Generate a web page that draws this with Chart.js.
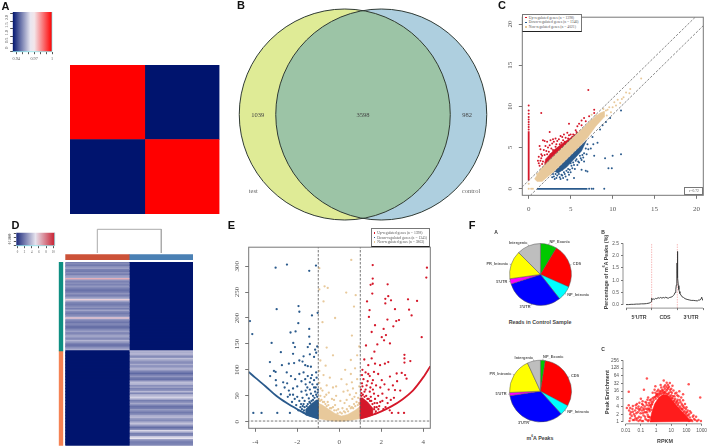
<!DOCTYPE html>
<html>
<head>
<meta charset="utf-8">
<title>Figure</title>
<script src="https://cdn.jsdelivr.net/npm/chart.js@4"></script>
<style>
  body { margin: 0; background: #fff; }
  #page { position: relative; width: 709px; height: 446px; overflow: hidden; background: #fff; }
  #page canvas { position: absolute; }
  .note { position: absolute; white-space: nowrap; color: #444; }
  .note sup { font-size: 62%; line-height: 0; }
  .frame { position: absolute; box-sizing: border-box; background: #fff; }
</style>
</head>
<body>
<div id="page"></div>
<script>
// Panel A
const sampleNames = ["test", "control"];
const corrRows = [[1, 0.94], [0.94, 1]];
const corrKeyRange = [0.934, 1];
const corrKeyTicks = [0.94, 0.95, 0.96, 0.97, 0.98, 0.99, 1];
const corrKeyLabels = [0.94, 0.97, 1];

// Panel B
const vennNames = ["test", "control"];
const vennCounts = [1039, 3598, 982];
const vennCentreX = [-18.25, 18.25];
const vennCentreY = [-0.5, -0.5];

// Panel C
const cUpper = [[-0.8, 0.2], [20, 21]];
const cLower = [[0.2, -0.8], [21, 20]];
const cUpStrip = [[0, 1], [0, 7]];
const cDownStrip = [[1, 0], [7, 0]];
const cNonBand = [[0.7, 1.2], [1.5, 2.5], [3, 4], [5, 6], [6.5, 7.4], [7.5, 8.4], [8.5, 9.2], [9, 9.4], [9, 8.7], [8, 7.6], [7, 6.2], [6, 5.1], [5, 4.1], [3, 2.1], [1.6, 0.9], [1, 0.9], [0.7, 1.2]];
const cUpCore = [[1.9, 2.9], [2, 3.6], [3, 4.7], [4, 5.5], [5, 6.2], [5.8, 6.8], [5, 6], [3, 4], [1.9, 2.9]];
const cDownCore = [[3.1, 2.1], [3.5, 1.9], [4.5, 2.6], [5.5, 3.7], [6.3, 4.6], [6.9, 5.9], [6, 5], [5, 4], [3.1, 2.1]];
const cUpPoints = [[0, 7.2], [0, 7.5], [0, 7.8], [0, 8.1], [0, 8.4], [0, 8.7], [0, 9.1], [0, 9.5], [0, 10.1], [1.5, 9.2], [7.1, 12], [7.8, 9.6], [2.5, 6.9], [1.7, 5.9], [1.9, 5.8], [2.2, 5.7], [2.6, 5.9], [2.9, 6], [1.3, 5.2], [1.4, 4.8], [1.2, 3.9], [1.5, 4.2], [1.8, 4.7], [2, 5.2], [2.3, 5], [2.5, 5.3], [2.8, 5.5], [3, 5.7], [3.2, 6.1], [3.4, 5.8], [3.6, 6], [3.8, 6.4], [4, 6.3], [4.2, 6.6], [4.4, 6.2], [4.6, 6.8], [4.8, 6.5], [5, 6.6], [5.2, 6.3], [4.8, 7.9], [5.6, 7.1], [5.8, 7.6], [6, 7.9], [6.3, 7.7], [6.3, 8.3], [6.6, 8.6], [6.8, 8.2], [7.2, 8.8], [7.8, 9.2], [1.6, 3], [1.4, 3.4], [2.1, 4.6], [2.7, 4.9], [3.2, 5.1], [3.7, 5.4], [1.2, 3.1], [2.4, 3.8], [3.9, 5.6], [1.5, 3.7], [1.7, 3.3], [1.9, 4.1], [1.6, 4], [2.2, 4.2], [2.4, 4.5], [2.6, 4.2], [2.9, 4.7], [3.1, 4.5], [3.3, 5.4], [3.5, 4.9], [3.8, 5.1], [4.1, 5.9], [4.3, 5.7], [4.5, 5.6], [4.7, 6.1], [4.9, 5.9], [5.3, 6.6], [5.5, 6.5], [5.7, 6.9], [2, 3.2], [2.8, 4.1], [3.4, 4.6], [1.3, 2.8], [1.1, 3.4], [2.3, 3.5]];
const cDownPoints = [[7.2, 0], [7.5, 0], [7.7, 0], [9, 0], [11, 4.2], [10, 4], [9.1, 3.7], [7.8, 4], [9.5, 2.5], [9.9, 2.5], [6.8, 2.2], [7, 2.1], [6.3, 2.3], [5.4, 1.3], [5, 2], [4.8, 1.7], [4.4, 1.5], [4.1, 1.3], [3.7, 1.4], [3.3, 1.3], [3, 1.5], [2.8, 1.4], [3.8, 1.2], [4.6, 1.1], [5.5, 2.4], [5.8, 2.9], [6, 3.2], [6.3, 3.5], [6.6, 3.3], [6.9, 4.2], [7.1, 4.8], [7.4, 4.9], [7.7, 5.4], [7.6, 6.3], [8.2, 5.6], [8.5, 7.2], [8.8, 7.7], [9.2, 8.1], [9.7, 8.6], [11, 9.5], [5.1, 2.8], [5.6, 3.4], [6.6, 4.3], [4.2, 2], [3.6, 1.8], [3.2, 1.8], [3.4, 1.6], [3.9, 1.7], [4, 2.3], [4.3, 1.8], [4.5, 2.2], [4.7, 2.4], [4.9, 2.3], [5, 3.1], [5.2, 2.5], [5.3, 3.2], [5.4, 2.9], [5.7, 3.6], [5.9, 3.3], [6.1, 4], [6.2, 3.7], [6.4, 4.1], [6.5, 3.8], [6.8, 4.9], [7, 5.4], [4, 1.6], [3.5, 2.2], [2.9, 1.8], [4.7, 2], [3.1, 1.2]];
const cNonPoints = [[0, 0.6], [0, 0], [0.3, 0], [0.5, 0], [13.4, 13.4], [12.1, 12.1], [12, 11.6], [11.6, 11.7], [11.3, 11.1], [11.1, 10.9], [10.9, 10.4], [10.6, 10.8], [10.4, 10.1], [10.2, 10.5], [10, 9.9], [9.8, 9.3], [9.6, 9.9], [9.4, 9.6], [9.3, 8.9], [9.2, 9.5], [8.9, 9.7], [8.7, 8.9], [7.5, 9], [8, 8.9], [1, 1.8]];

// Panel D
const heatColumns = ["case", "control"];
const heatTopRows = [2.5, 2.8, 2.4, 2.9, 3.3, 2.6, 2.4, 2.9, 2.5, 3.1, 3.4, 6.4, 3, 2.6, 2.9, 2.6, 3.1, 2.8, 2.3, 2.2, 2.6, 3, 2.5, 2.8, 3.6, 5.6, 3.3, 2.7, 2.4, 2.6, 3, 2.5, 3.4, 2.8, 2.4, 2.7, 3.2, 5.8, 3.1, 2.6, 2.3, 2.8, 2.5, 2.1, 2.4, 2.9, 3.3, 2.6, 3, 3.5, 3.1, 2.7, 3.8, 3.2, 2.6, 2.2, 2.5, 3.1, 3.6];
const heatBottomRows = [3.8, 3.6, 3.9, 3.2, 2.7, 4, 3.5, 3, 2.8, 3.6, 2.9, 3.3, 3.8, 3.1, 2.5, 2, 2.6, 3.1, 2.4, 2.2, 3.5, 4, 3.7, 2.9, 3.3, 2.6, 3, 3.9, 2.7, 3.6, 4.1, 4.5, 3.4, 2.5, 3, 3.5, 2.6, 2.2, 2.5, 3.2, 2.7, 2.4, 2.9, 3.6, 3.9, 3.2, 2.8, 3.3, 4.1, 3.7, 2.6, 2.1, 2.9, 4.6, 3.4, 2.5, 2.8, 4.2, 4.9, 3.3, 2.6, 2.5, 2.7];
const heatSilentValue = 0;
const heatKeyRange = [-0.3, 10.4];
const heatKeyTicks = [0, 2, 4, 6, 8, 10];
const sideBarRows = [59, 63];
const dendroX = [0, 0, 1, 1];
const dendroY = [0, 1, 1, 0];

// Panel E
const eLeftCurve = [[-4.31, 96], [-4, 85], [-3.5, 68], [-3, 50], [-2.5, 36], [-2, 24], [-1.5, 13], [-1, 6]];
const eRightCurve = [[1, 6], [1.5, 12], [2, 20], [2.5, 30], [3, 43], [3.5, 60], [4, 86], [4.33, 107]];
const eCutX = [-1, 1];
const eCutY = 1.3;
const eNonCore = [[-1, 6], [-0.6, 3], [-0.2, 1], [0.2, 1], [0.6, 3], [1, 6], [1, 30], [0.75, 22], [0.4, 14], [0.1, 11], [-0.2, 16], [-0.5, 24], [-0.8, 32], [-1, 36], [-1, 6]];
const eDownCore = [[-1, 6], [-1.3, 9], [-1.6, 13], [-1.6, 24], [-1.35, 34], [-1.1, 42], [-1, 42], [-1, 6]];
const eUpCore = [[1, 6], [1.3, 9], [1.6, 13], [1.6, 26], [1.35, 38], [1.1, 46], [1, 46], [1, 6]];
const eDownPoints = [[-4.25, 194], [-4.14, 169], [-3.03, 297], [-2.49, 303], [-1.43, 291], [-1.11, 301], [-2.98, 217], [-1.94, 223], [-1.9, 212], [-1.3, 205], [-1.03, 210], [-1.95, 190], [-2.32, 172], [-2.08, 174], [-1.43, 179], [-1.43, 164], [-3.22, 152], [-2.78, 134], [-2.19, 152], [-2.11, 144], [-1.5, 144], [-1.4, 150], [-3.3, 115], [-2.73, 109], [-3.29, 88], [-3.11, 98], [-3.03, 96], [-3.02, 80], [-3, 70], [-2.67, 76], [-2.48, 74], [-2.78, 53], [-4.09, 17], [-3.7, 17], [-2.95, 17], [-2.35, 17], [-2.2, 131], [-2.15, 113], [-1.9, 118], [-1.75, 116], [-1.62, 109], [-1.5, 107], [-1.35, 106], [-1.2, 125], [-1.1, 133], [-1.05, 145], [-1.15, 139], [-1.4, 130], [-1.7, 126], [-2.4, 112], [-2.5, 95], [-2.3, 88], [-2.1, 82], [-1.9, 92], [-1.7, 95], [-1.5, 88], [-1.3, 90], [-1.1, 95], [-1.2, 80], [-1.4, 76], [-1.6, 72], [-1.8, 78], [-2, 68], [-2.2, 64], [-2.4, 60], [-2.6, 66], [-2.45, 48], [-2.2, 52], [-2, 48], [-1.8, 58], [-1.6, 60], [-1.4, 62], [-1.2, 66], [-1.05, 72], [-1.9, 40], [-1.75, 46], [-1.55, 52], [-1.7, 34], [-2.05, 32], [-2.25, 38], [-1.35, 54], [-1.15, 58], [-1.25, 50], [-1.45, 45], [-1.85, 28], [-1.05, 48], [-1.1, 52], [-1.18, 46], [-1.25, 42], [-1.32, 40], [-1.38, 36], [-1.42, 38], [-1.5, 34], [-1.55, 30], [-1.65, 28], [-1.65, 40], [-1.7, 18], [-1.78, 24], [-1.95, 22], [-1.03, 56], [-1.12, 66], [-1.28, 72], [-1.52, 66], [-1.02, 62], [-1.08, 85], [-1.35, 84], [-1.62, 82], [-1.68, 22], [-1.74, 30], [-1.82, 34], [-2.12, 44], [-2.35, 52]];
const eUpPoints = [[1.59, 302], [1.59, 276], [1.59, 266], [1.49, 264], [1.57, 247], [2.3, 265], [2.33, 242], [2.19, 237], [2.46, 234], [1.32, 232], [2.19, 228], [1.44, 215], [2.65, 217], [1.41, 202], [2.29, 197], [2.71, 194], [2.84, 196], [2.57, 184], [1.7, 186], [2.11, 179], [1.54, 173], [2.02, 163], [2.22, 167], [2.13, 157], [3.27, 236], [3.7, 233], [3.32, 216], [3.44, 205], [3.92, 163], [4.17, 297], [4.14, 278], [3.1, 129], [3.1, 122], [3.1, 114], [3.38, 117], [1.27, 147], [1.81, 149], [2.41, 151], [1.67, 135], [1.19, 120], [1.54, 122], [1.38, 109], [1.7, 112], [1.94, 109], [2.17, 112], [2.33, 115], [2.73, 93], [2.97, 94], [3.13, 90], [3.2, 83], [2.81, 17], [3.08, 17], [2.65, 61], [2.41, 87], [2.02, 80], [1.1, 100], [1.25, 95], [1.45, 88], [1.65, 96], [1.85, 92], [1.15, 82], [1.35, 78], [1.55, 74], [1.75, 70], [1.95, 66], [2.15, 72], [2.35, 62], [2.55, 70], [2.75, 78], [2.9, 60], [1.1, 68], [1.25, 62], [1.45, 58], [1.65, 54], [1.85, 50], [2.05, 54], [2.25, 46], [2.45, 42], [2.05, 40], [1.8, 36], [2.2, 28], [2.4, 22], [2.5, 17], [1.9, 30], [1.2, 58], [1.05, 55], [1.5, 48], [1.7, 44], [1.05, 50], [1.12, 52], [1.2, 48], [1.28, 50], [1.34, 44], [1.4, 44], [1.46, 40], [1.52, 40], [1.58, 34], [1.68, 28], [1.68, 36], [1.74, 20], [1.78, 28], [1.86, 24], [1.95, 38], [1.03, 62], [1.08, 74], [1.3, 70], [1.48, 66], [1.6, 62], [1.08, 90], [1.38, 92], [1.6, 80], [1.72, 16], [1.66, 24], [2.1, 24], [2.3, 36], [2.6, 46]];
const eNonPoints = [[0.57, 312], [-0.95, 296], [-0.7, 261], [-0.95, 255], [-0.55, 258], [0.33, 249], [0.78, 244], [-0.75, 232], [0.7, 222], [-0.2, 200], [-0.8, 192], [0.6, 166], [-0.6, 143], [0.95, 145], [-0.3, 128], [0.85, 128], [0.55, 119], [-0.9, 118], [-0.65, 108], [0.28, 100], [0.75, 103], [-0.95, 98], [0.55, 92], [-0.75, 90], [-0.45, 85], [0.1, 82], [0.85, 82], [0.35, 72], [-0.95, 75], [-0.6, 70], [-0.3, 66], [0.65, 64], [0.95, 68], [0.2, 58], [-0.8, 60], [-0.5, 56], [-0.15, 50], [0.5, 52], [0.8, 55], [-0.7, 48], [-0.35, 44], [0.05, 40], [0.35, 42], [0.62, 44], [0.9, 46], [-0.9, 50], [-0.55, 38], [-0.2, 32], [0.15, 26], [0.48, 30], [0.7, 34], [-0.05, 24], [-0.92, 40], [-0.85, 42], [-0.78, 38], [-0.72, 38], [-0.66, 34], [-0.6, 30], [-0.52, 32], [-0.44, 26], [-0.38, 26], [-0.3, 28], [-0.24, 22], [-0.14, 22], [-0.08, 16], [0.04, 18], [0.12, 16], [0.22, 20], [0.28, 18], [0.36, 24], [0.42, 20], [0.55, 26], [0.6, 28], [0.66, 26], [0.76, 30], [0.82, 38], [0.88, 32], [0.93, 36], [0.97, 34], [-0.97, 44], [-0.62, 52], [-0.25, 42], [0.25, 36], [0.72, 48], [-0.88, 64], [0.4, 60], [0.6, 76], [-0.15, 68]];

// Panel F
const pieSegments = ["NP_Exonic", "CDS", "NP_Intronic", "3'UTR", "5'UTR", "PR_Intronic", "Intergenic"];
const readsShare = [8.6, 23, 7.8, 30.6, 2.8, 14.7, 12.5];
const peaksShare = [2.5, 30.5, 5.5, 34.5, 1.7, 18.9, 6.9];
const metageneX = [0, 0.1, 0.2, 0.3, 0.4, 0.5, 0.6, 0.7, 0.8, 0.9, 0.95, 0.98, 1, 1.03, 1.06, 1.1, 1.15, 1.2, 1.25, 1.3, 1.35, 1.4, 1.45, 1.5, 1.55, 1.6, 1.65, 1.7, 1.75, 1.8, 1.85, 1.88, 1.91, 1.94, 1.96, 1.98, 1.99, 2, 2.01, 2.02, 2.04, 2.06, 2.08, 2.1, 2.14, 2.18, 2.24, 2.3, 2.38, 2.46, 2.54, 2.62, 2.7, 2.78, 2.84, 2.88, 2.92, 2.95, 2.97, 3];
const metageneY = [0.01, 0.01, 0.02, 0.02, 0.03, 0.03, 0.04, 0.04, 0.05, 0.07, 0.09, 0.13, 0.27, 0.22, 0.24, 0.22, 0.26, 0.25, 0.29, 0.27, 0.3, 0.27, 0.3, 0.28, 0.31, 0.28, 0.27, 0.3, 0.31, 0.33, 0.38, 0.42, 0.5, 0.62, 0.8, 1.25, 1.7, 2.17, 1.5, 1.1, 0.78, 0.62, 0.54, 0.46, 0.4, 0.33, 0.3, 0.25, 0.22, 0.2, 0.18, 0.18, 0.17, 0.16, 0.2, 0.19, 0.23, 0.31, 0.24, 0.17];
const metageneBreaks = [1, 2];
const metageneRegions = ["5'UTR", "CDS", "3'UTR"];
const enrichCore = [[0.4, 1], [0.5, 2.2], [0.8, 5], [1.5, 9], [3, 12], [6, 11], [12, 7], [25, 4], [50, 2.6], [100, 1.7], [200, 1.05], [0.4, 1]];
const enrichPoints = [[0.016, 15], [0.25, 50], [3.2, 42], [5, 34], [8, 33], [140, 30], [800, 9], [0.9, 25], [2, 28], [4, 27], [1.4, 18], [2.2, 22], [7, 24], [12, 26], [0.16, 18], [0.6, 14], [0.8, 18], [1.1, 12], [14, 17], [22, 14], [34, 16], [30, 10], [60, 12], [0.3, 9], [0.2, 6], [0.1, 8], [0.12, 5], [0.07, 4], [0.05, 3.5], [0.03, 4.2], [0.02, 3.5], [0.016, 4.5], [0.017, 2.8], [0.02, 2], [0.03, 2.5], [0.04, 1.7], [0.05, 2.2], [0.06, 1.4], [0.08, 2.8], [0.1, 1.5], [0.13, 2.2], [0.16, 3], [0.2, 1.3], [0.25, 2.4], [0.3, 3.4], [0.02, 1.4], [0.03, 1.2], [0.07, 1.1], [0.14, 1.1], [0.18, 4], [0.24, 4.6], [0.35, 5.5], [0.4, 7], [0.5, 6], [0.6, 8.5], [0.7, 7], [0.85, 9.5], [1.1, 11], [1.5, 13], [2, 15], [3, 16], [4, 15], [5, 17], [7, 14], [9, 15], [10, 11], [13, 10], [18, 8], [24, 6.5], [30, 5.5], [40, 6], [55, 4.5], [70, 3.6], [90, 3.2], [120, 2.8], [150, 2], [200, 2.3], [260, 1.6], [320, 1.3], [180, 1.2], [100, 3.8], [500, 1.1], [900, 1.1], [60, 7], [80, 5], [45, 9], [25, 11], [18, 13], [0.45, 3.8], [0.28, 1.9], [0.4, 1.5], [0.055, 5], [0.035, 2], [0.09, 3.2], [0.022, 2.4], [0.012, 3.5], [0.15, 1.8], [0.22, 3.3],
  [0.33, 1.2], [0.38, 2.6], [0.3, 1.1], [0.36, 3], [0.34, 1.6], [0.45, 4.2], [0.55, 5], [0.62, 6], [0.5, 3], [0.7, 9], [0.95, 8], [1, 10], [1.2, 12], [1.3, 9.6], [1.6, 11], [1.8, 13], [2.2, 12.5], [2.6, 14], [3.2, 13.5], [3.6, 14], [4.4, 13], [5.5, 12.5], [6.5, 12], [8, 10], [9, 9], [11, 8.2], [12, 8.5], [15, 6.4], [16, 7], [20, 5.4], [22, 6], [26, 4.8], [28, 4.4], [34, 3.6], [38, 4], [45, 3.4], [50, 3.2], [56, 3], [65, 2.4], [75, 2.6], [85, 2], [95, 2.3], [110, 1.8], [130, 1.8], [145, 1.1], [165, 1.5], [210, 1.2], [240, 1.1], [290, 1.8], [380, 1.2], [430, 1.6], [620, 1.2],
  [0.018, 1.1], [0.025, 1.7], [0.028, 3.2], [0.036, 1.2], [0.042, 2.8], [0.046, 4.5], [0.052, 1.2], [0.062, 2.4], [0.068, 3.3], [0.075, 1.6], [0.09, 1.2], [0.095, 2.2], [0.11, 3.8], [0.115, 1.1], [0.12, 2.8], [0.14, 4.6], [0.15, 3.4], [0.17, 2.4], [0.19, 1.6], [0.21, 2.4], [0.23, 5.6], [0.27, 3], [0.3, 1.6], [0.32, 4.4], [0.36, 3.2], [0.41, 4.6], [0.46, 7.5], [0.52, 4.8], [0.13, 6.4], [0.08, 5.6], [0.045, 1.4], [0.24, 1.2], [0.27, 7.4], [0.9, 14], [1.8, 16], [2.7, 18], [3.8, 20], [5.6, 19], [6.4, 21], [8.5, 18], [11, 14], [16, 10], [2.4, 17], [1.2, 16], [3.3, 24], [4.8, 23], [6, 28], [10, 20], [26, 7.4], [36, 7.2], [48, 5.2], [62, 4], [110, 2.4], [170, 2.6]];
const enrichTicksX = [0.01, 0.1, 1, 10, 100, 1000];
const enrichTicksY = [1, 2, 4, 8, 16, 32, 64, 128, 256];

// Colours
const navy = "#00146e";
const serif = "'Liberation Serif'";
const sans = "'Liberation Sans'";
const redUp = "#d5182a";
const blueDown = "#2a5a8c";
const beige = "#e8c99b";
const pieColours = ["#00c800", "#ff0000", "#00ffff", "#0000ff", "#ff00ff", "#ffff00", "#bebebe"];

var page = document.getElementById("page");

// Mixes two rgb triples
function mix(a, b, t) {
  return "rgb(" + a.map(function (v, i) { return Math.round(v + (b[i] - v) * t); }).join(",") + ")";
}

// Heatmap colour for panel D: navy at 0, near white at 5, red at 10
function heatColour(v) {
  if (v <= 5) return mix([0, 20, 110], [236, 232, 242], v / 5);
  return mix([236, 232, 242], [208, 28, 40], (v - 5) / 5);
}

// Canvas at box [x, y, w, h] with the plot area pinned to plot [left, top, right, bottom]
function draw(box, plot, config) {
  var canvas = document.createElement("canvas");
  canvas.style.left = box[0] + "px";
  canvas.style.top = box[1] + "px";
  canvas.width = box[2];
  canvas.height = box[3];
  page.appendChild(canvas);
  var gapL = plot[0] - box[0];
  var gapT = plot[1] - box[1];
  var gapR = box[0] + box[2] - plot[2];
  var gapB = box[1] + box[3] - plot[3];
  var o = config.options || (config.options = {});
  var sc = o.scales || {};
  var xShown = sc.x && sc.x.display !== false;
  var yShown = sc.y && sc.y.display !== false;
  if (xShown) sc.x.afterFit = function (s) { s.height = gapB; };
  if (yShown) sc.y.afterFit = function (s) { s.width = gapL; };
  o.responsive = false;
  o.animation = false;
  o.devicePixelRatio = 1;
  o.layout = { autoPadding: false, padding: { top: gapT, right: gapR, left: yShown ? 0 : gapL, bottom: xShown ? 0 : gapB } };
  o.plugins = Object.assign({ legend: { display: false }, tooltip: { enabled: false } }, o.plugins);
  return new Chart(canvas, config);
}

// Real text placed on the page, x and y are the anchor
function note(str, x, y, font, extra) {
  var el = document.createElement("div");
  el.className = "note";
  el.innerHTML = str;
  el.style.left = x + "px";
  el.style.top = y + "px";
  el.style.font = font;
  el.style.transform = "translate(-50%, -50%)";
  Object.assign(el.style, extra || {});
  page.appendChild(el);
  return el;
}

function frame(x, y, w, h, css) {
  var el = document.createElement("div");
  el.className = "frame";
  el.style.left = x + "px";
  el.style.top = y + "px";
  el.style.width = w + "px";
  el.style.height = h + "px";
  el.style.border = css;
  page.appendChild(el);
  return el;
}

// Small legend box like the R one
function legendBox(x, y, w, h, rowYs, labels) {
  var el = frame(x, y, w, h, "1px solid #777");
  el.style.borderBottom = "1px solid #222";
  var cols = [redUp, blueDown, beige];
  labels.forEach(function (txt, i) {
    var dot = frame(x + 3, rowYs[i] - 0.8, 1.6, 1.6, "none");
    dot.style.background = cols[i];
    note(txt, x + 6.5, rowYs[i], "3.7px " + serif, { transform: "translateY(-50%)", color: "#555" });
  });
}

// R style plot frame
var boxPlugin = {
  id: "plotBox",
  afterDatasetsDraw: function (chart) {
    var a = chart.chartArea;
    chart.ctx.save();
    chart.ctx.strokeStyle = "#777";
    chart.ctx.lineWidth = 1;
    chart.ctx.strokeRect(a.left, a.top, a.right - a.left, a.bottom - a.top);
    chart.ctx.restore();
  }
};

// R style axis lines, only running between the first and the last tick
var axisLinePlugin = {
  id: "axisLines",
  afterDraw: function (chart) {
    var ctx = chart.ctx;
    ctx.save();
    ctx.strokeStyle = "#777";
    ctx.lineWidth = 0.8;
    ["x", "y"].forEach(function (id) {
      var s = chart.scales[id];
      var first = s.getPixelForValue(s.ticks[0].value);
      var last = s.getPixelForValue(s.ticks[s.ticks.length - 1].value);
      ctx.beginPath();
      if (id === "x") { ctx.moveTo(first, s.top); ctx.lineTo(last, s.top); }
      else { ctx.moveTo(s.right, first); ctx.lineTo(s.right, last); }
      ctx.stroke();
    });
    ctx.restore();
  }
};

// Venn overlap and outlines, taken from the two circle elements
var vennPlugin = {
  id: "vennOverlap",
  afterDatasetsDraw: function (chart) {
    var ctx = chart.ctx;
    var a = chart.getDatasetMeta(0).data[0];
    var b = chart.getDatasetMeta(1).data[0];
    var r = a.options.radius;
    ctx.save();
    ctx.beginPath();
    ctx.arc(a.x, a.y, r, 0, Math.PI * 2);
    ctx.clip();
    ctx.beginPath();
    ctx.arc(b.x, b.y, r, 0, Math.PI * 2);
    ctx.fillStyle = "#9cc4a6";
    ctx.fill();
    ctx.restore();
    ctx.save();
    ctx.strokeStyle = "#2f3a34";
    ctx.lineWidth = 1;
    [a, b].forEach(function (p) {
      ctx.beginPath();
      ctx.arc(p.x, p.y, r, 0, Math.PI * 2);
      ctx.stroke();
    });
    ctx.restore();
  }
};

// Pie labels sit at 1.1 radius with a short tick, as R pie() does
var pieLabelPlugin = {
  id: "pieLabels",
  afterDatasetsDraw: function (chart) {
    var ctx = chart.ctx;
    ctx.save();
    ctx.font = "bold 3.9px " + sans;
    ctx.fillStyle = "#555";
    ctx.strokeStyle = "#666";
    ctx.lineWidth = 0.5;
    ctx.textBaseline = "middle";
    chart.getDatasetMeta(0).data.forEach(function (arc, i) {
      var mid = (arc.startAngle + arc.endAngle) / 2;
      var cos = Math.cos(mid);
      var sin = Math.sin(mid);
      ctx.beginPath();
      ctx.moveTo(arc.x + cos * arc.outerRadius, arc.y + sin * arc.outerRadius);
      ctx.lineTo(arc.x + cos * arc.outerRadius * 1.05, arc.y + sin * arc.outerRadius * 1.05);
      ctx.stroke();
      ctx.textAlign = cos >= 0 ? "left" : "right";
      ctx.fillText(chart.data.labels[i], arc.x + cos * arc.outerRadius * 1.1, arc.y + sin * arc.outerRadius * 1.1);
    });
    ctx.restore();
  }
};

function dots(points, colour, radius) {
  return {
    data: points.map(function (p) { return { x: p[0], y: p[1] }; }),
    backgroundColor: colour,
    borderWidth: 0,
    pointRadius: radius,
    clip: false
  };
}

function path(points, colour, width, dash, tension) {
  return {
    data: points.map(function (p) { return { x: p[0], y: p[1] }; }),
    showLine: true,
    borderColor: colour,
    borderWidth: width,
    borderDash: dash || [],
    tension: tension || 0,
    pointRadius: 0
  };
}

function shape(points, colour) {
  return {
    data: points.map(function (p) { return { x: p[0], y: p[1] }; }),
    showLine: true,
    fill: "shape",
    backgroundColor: colour,
    borderColor: colour,
    borderWidth: 0.5,
    pointRadius: 0
  };
}

// R style numeric axes used in panels C and E
function rAxis(min, max, ticks, rotated, padding) {
  return {
    type: "linear",
    min: min,
    max: max,
    border: { display: false },
    grid: { drawOnChartArea: false, tickLength: 3.5, color: "#777" },
    afterBuildTicks: function (s) { s.ticks = ticks.map(function (v) { return { value: v }; }); },
    ticks: {
      font: { family: serif, size: 7 },
      color: "#555",
      padding: padding,
      autoSkip: false,
      minRotation: rotated ? 90 : 0,
      maxRotation: rotated ? 90 : 0,
      crossAlign: rotated ? "center" : "near"
    }
  };
}

function hidden(min, max) {
  return { type: "linear", display: false, min: min, max: max };
}

// Panel A heatmap
var corrLabels = sampleNames;
draw([66, 61, 158, 158], [70, 65, 219.5, 214], {
  type: "bar",
  data: {
    labels: corrLabels,
    datasets: sampleNames.map(function (name, col) {
      return {
        label: name,
        data: corrRows.map(function () { return 1; }),
        backgroundColor: corrRows.map(function (row) { return row[col] === 1 ? "#ff0000" : navy; }),
        barPercentage: 1,
        categoryPercentage: 1
      };
    })
  },
  options: {
    indexAxis: "y",
    scales: {
      x: { display: false, stacked: true, min: 0, max: 2 },
      y: { display: false, stacked: true }
    }
  }
});

// Key shared by panels A and D: a single bar painted with a gradient
function keyChart(box, plot, range, ticks, labels, yTicks, yMax, stops, tickFont) {
  draw(box, plot, {
    type: "bar",
    data: {
      datasets: [{
        data: [{ x: range, y: yMax / 2 }],
        barThickness: plot[3] - plot[1] + 1,
        backgroundColor: function (ctx) {
          var area = ctx.chart.chartArea;
          if (!area) return navy;
          var g = ctx.chart.ctx.createLinearGradient(area.left, 0, area.right, 0);
          stops.forEach(function (s) { g.addColorStop(s[0], s[1]); });
          return g;
        }
      }]
    },
    plugins: [{
      id: "keyEdge",
      afterDatasetsDraw: function (chart) {
        var a = chart.chartArea;
        chart.ctx.save();
        chart.ctx.strokeStyle = "#7fe8ee";
        chart.ctx.lineWidth = 0.7;
        chart.ctx.beginPath();
        chart.ctx.moveTo(a.left, a.bottom);
        chart.ctx.lineTo(a.right, a.bottom);
        chart.ctx.lineTo(a.right, a.top);
        chart.ctx.stroke();
        chart.ctx.restore();
      }
    }],
    options: {
      indexAxis: "y",
      scales: {
        x: {
          type: "linear", min: range[0], max: range[1],
          border: { display: false },
          grid: { drawOnChartArea: false, tickLength: 2.5, color: "#555" },
          afterBuildTicks: function (s) { s.ticks = ticks.map(function (v) { return { value: v }; }); },
          ticks: {
            font: { family: serif, size: tickFont }, color: "#555", padding: 2, autoSkip: false, maxRotation: 0,
            callback: function (v) { return labels.indexOf(v) >= 0 ? String(v) : ""; }
          }
        },
        y: {
          type: "linear", min: 0, max: yMax,
          border: { display: false },
          grid: { drawOnChartArea: false, tickLength: 2.5, color: "#555" },
          afterBuildTicks: function (s) { s.ticks = yTicks.map(function (v) { return { value: v }; }); },
          ticks: { font: { family: serif, size: tickFont }, color: "#555", padding: 1, autoSkip: false, minRotation: 90, maxRotation: 90, crossAlign: "center" }
        }
      }
    }
  });
}
keyChart([0, 5, 62, 62], [12.7, 12, 52, 51.7], corrKeyRange, corrKeyTicks, corrKeyLabels, [0, 0.5, 1, 1.5, 2], 2.1,
  [[0, navy], [0.45, "#e8e6f0"], [0.55, "#f3e6ea"], [1, "#ff0000"]], 4.2);
keyChart([4, 228, 58, 28], [16.3, 232.7, 54.7, 245.7], heatKeyRange, heatKeyTicks, heatKeyTicks, [0, 150, 300], 340,
  [[0, "#1c2a7c"], [0.5, "#e6e3ee"], [1, "#c91f30"]], 3);

// Panel B Venn
draw([233, 4, 260, 220], [233, 4, 493, 224], {
  type: "scatter",
  data: {
    datasets: vennNames.map(function (name, i) {
      return {
        label: name,
        data: [{ x: vennCentreX[i], y: vennCentreY[i] }],
        pointRadius: 105.5,
        pointBackgroundColor: i === 0 ? "#dfeb96" : "#aecfdf",
        pointBorderWidth: 0,
        clip: false
      };
    })
  },
  plugins: [vennPlugin],
  options: { scales: { x: hidden(-130, 130), y: hidden(-110, 110) } }
});

// Panel C scatter
draw([498, 8, 211, 212], [522.3, 13.7, 703.3, 195.3], {
  type: "scatter",
  data: {
    datasets: [
      path(cUpper, "#555", 0.7, [2.5, 1.5]),
      path(cLower, "#555", 0.7, [2.5, 1.5]),
      dots(cNonPoints, beige, 1),
      shape(cNonBand, beige),
      path(cUpStrip, redUp, 1.8),
      dots(cUpPoints, redUp, 1),
      shape(cUpCore, redUp),
      path(cDownStrip, blueDown, 1.8),
      dots(cDownPoints, blueDown, 1),
      shape(cDownCore, blueDown)
    ]
  },
  plugins: [boxPlugin],
  options: {
    scales: {
      x: rAxis(-0.76, 20.8, [0, 5, 10, 15, 20], false, 6),
      y: rAxis(-0.79, 20.83, [0, 5, 10, 15, 20], true, 5)
    }
  }
});

// Panel D heatmap
var heatRowLabels = heatTopRows.concat(heatBottomRows).map(function (v, i) { return "row" + (i + 1); });
var heatLeft = heatTopRows.concat(heatBottomRows.map(function () { return heatSilentValue; }));
var heatRight = heatTopRows.map(function () { return heatSilentValue; }).concat(heatBottomRows);
draw([60, 258, 138, 188], [65.3, 262, 193, 445.7], {
  type: "bar",
  data: {
    labels: heatRowLabels,
    datasets: [heatLeft, heatRight].map(function (col, i) {
      return {
        label: heatColumns[i],
        data: col.map(function () { return 1; }),
        backgroundColor: col.map(heatColour),
        barThickness: 2
      };
    })
  },
  options: {
    indexAxis: "y",
    scales: {
      x: { display: false, stacked: true, min: 0, max: 2 },
      y: { display: false, stacked: true }
    }
  }
});

// Panel D annotation bars
draw([62, 252, 134, 10], [65.3, 254.3, 193, 260], {
  type: "bar",
  data: {
    labels: ["group"],
    datasets: heatColumns.map(function (name, i) {
      return { label: name, data: [1], backgroundColor: i === 0 ? "#cc5238" : "#4a80b4", barPercentage: 1, categoryPercentage: 1 };
    })
  },
  options: { indexAxis: "y", scales: { x: { display: false, stacked: true, min: 0, max: 2 }, y: { display: false, stacked: true } } }
});
draw([56, 259, 10, 189], [58.7, 262, 63.3, 445.7], {
  type: "bar",
  data: {
    labels: ["cluster"],
    datasets: sideBarRows.map(function (rows, i) {
      return { label: "cluster" + (i + 1), data: [rows], backgroundColor: i === 0 ? "#0e8f82" : "#f58253", barPercentage: 1, categoryPercentage: 1 };
    })
  },
  options: { scales: { x: { display: false, stacked: true }, y: { display: false, stacked: true, reverse: true, min: 0, max: sideBarRows[0] + sideBarRows[1] } } }
});

// Panel D dendrogram
draw([92, 226, 74, 30], [97.3, 229.3, 161.3, 253], {
  type: "scatter",
  data: {
    datasets: [path(dendroX.map(function (x, i) { return [x, dendroY[i]]; }), "#aaa", 1)]
  },
  options: {
    clip: false,
    scales: { x: hidden(0, 1), y: hidden(0, 1) }
  }
});

// Panel E volcano
draw([222, 240, 216, 206], [248.7, 246.7, 430.3, 428.3], {
  type: "scatter",
  data: {
    datasets: [
      path([[eCutX[0], -13], [eCutX[0], 340]], "#555", 0.8, [2.5, 1.5]),
      path([[eCutX[1], -13], [eCutX[1], 340]], "#555", 0.8, [2.5, 1.5]),
      path([[-4.4, eCutY], [4.4, eCutY]], "#555", 0.8, [2.5, 1.5]),
      dots(eUpPoints, redUp, 1.15),
      path(eRightCurve, redUp, 1.8, [], 0.3),
      shape(eUpCore, redUp),
      dots(eDownPoints, blueDown, 1.15),
      path(eLeftCurve, blueDown, 1.8, [], 0.3),
      shape(eDownCore, blueDown),
      dots(eNonPoints, beige, 1.15),
      shape(eNonCore, beige)
    ]
  },
  plugins: [boxPlugin],
  options: {
    scales: {
      x: rAxis(-4.31, 4.33, [-4, -2, 0, 2, 4], false, 6),
      y: rAxis(-12.7, 336.5, [0, 50, 100, 150, 200, 250, 300], true, 3)
    }
  }
});

// Panel F pies
[[readsShare, 243.3], [peaksShare, 360]].forEach(function (item) {
  var top = item[1];
  draw([470, Math.floor(top) - 12, 140, 86], [509.3, top, 571.6, top + 62.3], {
    type: "pie",
    data: {
      labels: pieSegments,
      datasets: [{ data: item[0], backgroundColor: pieColours, borderColor: "#555", borderWidth: 0.5 }]
    },
    plugins: [pieLabelPlugin]
  });
});

// Panel F metagene profile
draw([600, 238, 109, 75], [623, 243.3, 703, 308.3], {
  type: "scatter",
  data: {
    datasets: [
      path(metageneX.map(function (x, i) { return [x, metageneY[i]]; }), "#333", 0.9),
      path([[metageneBreaks[0], -0.13], [metageneBreaks[0], 2.6]], "#f5a9a9", 0.8, [1.5, 1]),
      path([[metageneBreaks[1], -0.13], [metageneBreaks[1], 2.6]], "#f5a9a9", 0.8, [1.5, 1])
    ]
  },
  plugins: [axisLinePlugin],
  options: {
    scales: {
      x: {
        type: "linear", min: -0.117, max: 3,
        border: { display: false },
        grid: { drawOnChartArea: false, tickLength: 2, color: "#777" },
        afterBuildTicks: function (s) { s.ticks = [0, 1, 2, 3].map(function (v) { return { value: v }; }); },
        ticks: { display: false }
      },
      y: {
        type: "linear", min: -0.134, max: 2.5,
        border: { display: false },
        grid: { drawOnChartArea: false, tickLength: 2, color: "#777" },
        afterBuildTicks: function (s) { s.ticks = [0, 0.5, 1, 1.5, 2, 2.5].map(function (v) { return { value: v }; }); },
        ticks: { font: { family: sans, size: 4.8 }, color: "#555", padding: 2, autoSkip: false, callback: function (v) { return v.toFixed(1); } }
      }
    }
  }
});

// Panel F enrichment scatter
draw([600, 355, 109, 80], [623, 360.3, 704, 423.8], {
  type: "scatter",
  data: {
    datasets: [
      dots(enrichPoints, "rgba(255,30,30,0.75)", 1.25),
      shape(enrichCore, "#ff1c1c")
    ]
  },
  plugins: [axisLinePlugin],
  options: {
    scales: {
      x: {
        type: "logarithmic", min: 0.0067, max: 1000,
        border: { display: false },
        grid: { drawOnChartArea: false, tickLength: 2, color: "#777" },
        afterBuildTicks: function (s) { s.ticks = enrichTicksX.map(function (v) { return { value: v }; }); },
        ticks: { font: { family: sans, size: 4.8 }, color: "#555", padding: 2, autoSkip: false, maxRotation: 0, callback: function (v) { return String(v); } }
      },
      y: {
        type: "logarithmic", min: 0.85, max: 256,
        border: { display: false },
        grid: { drawOnChartArea: false, tickLength: 2, color: "#777" },
        afterBuildTicks: function (s) { s.ticks = enrichTicksY.map(function (v) { return { value: v }; }); },
        ticks: { font: { family: sans, size: 4.8 }, color: "#555", padding: 2, autoSkip: false, callback: function (v) { return String(v); } }
      }
    }
  }
});

// Panel letters
[["A", 5.5, 6], ["B", 241, 5], ["C", 502, 5], ["D", 15.5, 225], ["E", 231.5, 225], ["F", 472, 225]].forEach(function (p) {
  note(p[0], p[1], p[2], "bold 11px " + sans, { color: "#111" });
});
[["A", 496, 232], ["B", 603, 232], ["C", 603, 349]].forEach(function (p) {
  note(p[0], p[1], p[2], "bold 5px " + sans, { color: "#333" });
});

// Venn numbers and names
var vennText = "6.5px " + serif;
note(String(vennCounts[0]), 257.7, 113.7, vennText);
note(String(vennCounts[1]), 363, 113.7, vennText);
note(String(vennCounts[2]), 467, 113.7, vennText);
note(vennNames[0], 253.3, 190.3, vennText, { color: "#666" });
note(vennNames[1], 471, 190.3, vennText, { color: "#666" });

// Legends of C and E
legendBox(522.3, 13.7, 60, 18, [17.7, 22.4, 27.1], ["Up-regulated genes (n = 1398)", "Down-regulated genes (n = 1346)", "Non-regulated genes (n = 4021)"]);
legendBox(370.7, 228.3, 59.6, 18.4, [233, 237.5, 242], ["Up-regulated genes (n = 1398)", "Down-regulated genes (n = 1345)", "Non-regulated genes (n = 3863)"]);
frame(684, 186.7, 19.3, 8.6, "1px solid #777");
note("r=0.72", 694, 191, "3.6px " + serif, { color: "#555" });

// Panel F text
note("Reads in Control Sample", 540, 322, "bold 5.3px " + sans, { color: "#444" });
note("m<sup>6</sup>A Peaks", 540, 438, "bold 5.3px " + sans, { color: "#444" });
note("Percentage of m<sup>6</sup>A Peaks (%)", 606, 272, "bold 5.4px " + sans, { color: "#444", transform: "translate(-50%, -50%) rotate(-90deg)" });
note("Peak Enrichment", 607, 392, "bold 5.4px " + sans, { color: "#444", transform: "translate(-50%, -50%) rotate(-90deg)" });
note("RPKM", 665, 441, "bold 5.4px " + sans, { color: "#444" });
note(metageneRegions[0], 639, 317, "bold 5.3px " + sans, { color: "#444" });
note(metageneRegions[1], 665, 317, "bold 5.3px " + sans, { color: "#444" });
note(metageneRegions[2], 691, 317, "bold 5.3px " + sans, { color: "#444" });
</script>
</body>
</html>
